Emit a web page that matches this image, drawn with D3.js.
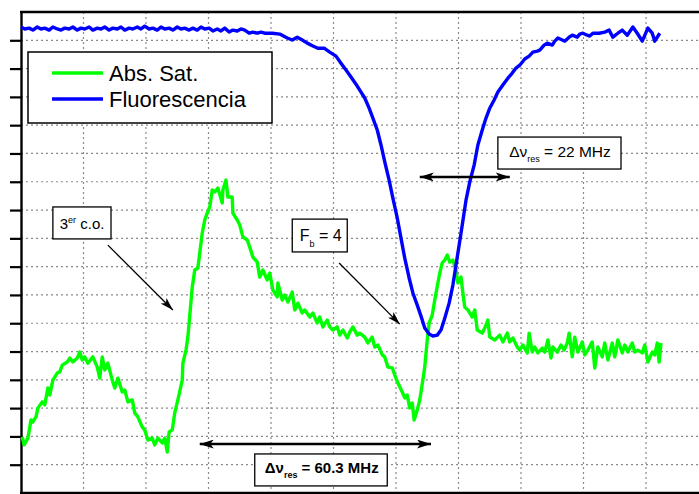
<!DOCTYPE html>
<html><head><meta charset="utf-8">
<script src="https://cdn.jsdelivr.net/npm/d3@7"></script>
<style>body{margin:0;background:#fff}svg{display:block}</style>
</head><body><svg id="c" width="699" height="494"></svg>
<script>
const seriesNames = ["Abs. Sat.", "Fluorescencia"];
const xGrid = [0,10,20,30,40,50,60,70,80,90,100,110];
const yGrid = [0,10,20,30,40,50,60,70,80,90,100,110,120,130,140,150,160,170];
const yTicks = [10,20,30,40,50,60,70,80,90,100,110,120,130,140,150,160];

const absSat = [
[0.2,19.8],[0.5,17.0],[1.1,19.4],[1.6,25.8],[1.9,25.1],[2.4,26.9],[2.7,30.0],[3.4,32.2],[3.8,31.1],[4.3,37.1],
[4.6,34.6],[5.1,39.9],[5.8,42.4],[6.2,42.8],[6.6,45.2],[7.4,46.3],[7.8,47.7],[8.3,46.3],[9.0,47.7],[9.4,49.8],
[9.8,47.0],[10.2,48.1],[10.7,45.9],[11.5,48.1],[12.2,44.5],[12.6,40.6],[13.0,48.1],[13.4,43.5],[13.9,45.9],[14.6,39.9],
[15.0,37.1],[15.5,40.6],[16.2,35.7],[16.6,36.4],[17.1,32.2],[17.8,32.9],[18.2,28.3],[18.7,26.9],[19.4,23.3],[19.8,22.3],
[20.3,18.7],[21.0,19.4],[21.4,17.0],[21.9,19.4],[22.6,17.7],[23.0,19.4],[23.4,14.5],[23.7,21.6],[24.2,22.3],[24.6,28.3],
[25.1,32.9],[25.8,39.9],[25.9,45.9],[26.4,50.5],[26.7,55.1],[27.4,72.8],[27.8,78.8],[28.3,79.5],[29.0,91.9],[29.4,96.5],
[29.8,98.9],[30.2,101.1],[30.6,107.1],[31.0,106.4],[31.5,107.8],[32.2,102.5],[32.3,107.1],[32.8,110.6],[33.1,104.6],[33.8,104.6],
[33.9,98.9],[34.6,96.5],[35.0,94.7],[35.5,90.5],[36.2,89.4],[36.6,86.9],[37.1,83.4],[37.8,81.6],[38.2,76.3],[38.7,78.8],
[39.4,75.3],[39.8,77.7],[40.3,71.7],[41.0,69.3],[41.1,74.2],[41.8,68.2],[42.2,70.0],[42.7,67.5],[43.4,71.0],[43.8,64.7],
[44.3,67.1],[45.0,63.6],[45.4,64.7],[46.2,62.2],[46.7,63.6],[47.4,60.1],[47.8,62.2],[48.3,58.7],[49.0,61.1],[49.4,58.7],
[49.9,57.6],[50.6,58.7],[51.0,55.8],[51.5,57.6],[52.2,54.8],[52.6,56.9],[53.1,58.7],[53.8,55.8],[54.2,56.5],[55.0,55.1],
[55.5,53.0],[56.2,55.1],[56.6,51.6],[57.1,52.3],[57.8,48.8],[58.2,48.1],[58.7,44.5],[59.4,44.2],[59.8,41.7],[60.3,38.9],
[61.0,35.7],[61.4,33.6],[61.8,34.6],[62.2,30.0],[62.6,31.8],[62.9,25.8],[63.4,29.3],[63.8,32.9],[64.3,39.9],[64.6,44.5],
[65.0,54.1],[65.3,60.1],[65.8,62.9],[66.2,68.2],[66.7,74.2],[67.0,77.7],[67.4,81.3],[67.8,82.3],[68.2,84.1],[68.6,81.6],
[69.1,82.3],[69.6,78.8],[69.9,74.2],[70.4,76.3],[70.7,70.7],[71.0,65.7],[71.5,64.7],[72.2,62.2],[72.6,64.7],[73.0,57.6],
[73.8,56.5],[74.2,58.3],[74.7,61.1],[75.0,55.1],[75.8,54.1],[76.6,55.8],[77.1,53.4],[77.8,56.5],[78.2,53.4],[78.7,54.8],
[79.4,51.6],[79.8,50.5],[80.3,52.3],[81.0,49.5],[81.3,56.5],[81.8,49.8],[82.2,51.6],[82.7,49.5],[83.4,51.2],[83.8,49.8],
[84.3,54.1],[84.8,47.7],[85.1,51.6],[85.8,49.8],[86.4,52.3],[86.9,50.5],[87.4,53.0],[87.7,56.5],[88.2,48.1],[88.6,55.1],
[89.1,49.8],[89.8,53.4],[90.2,48.8],[90.7,50.5],[91.4,53.4],[91.8,44.2],[92.3,51.6],[93.0,48.1],[93.4,53.0],[93.9,47.0],
[94.6,53.0],[95.0,48.1],[95.5,54.1],[96.2,49.5],[96.6,52.3],[97.1,49.8],[97.8,53.0],[98.2,49.8],[98.7,50.5],[99.4,49.5],
[99.8,52.3],[100.3,46.3],[101.0,49.8],[101.4,48.8],[101.8,53.0],[102.1,46.3],[102.4,53.0]
];

const fluorescencia = [
[0,164.7],[0.6,164.0],[1.3,164.3],[1.9,163.6],[2.6,164.7],[3.2,164.0],[3.8,164.3],[4.5,163.6],[5.1,164.7],[5.8,164.0],
[6.4,163.6],[7.0,164.3],[7.7,164.0],[8.3,164.7],[9.0,163.6],[9.6,164.3],[10.2,164.0],[10.9,164.7],[11.5,163.6],[12.2,164.3],
[12.8,164.0],[13.4,164.7],[14.1,163.6],[14.7,164.3],[15.4,164.0],[16.0,164.7],[16.6,163.6],[17.3,164.3],[17.9,164.0],[18.6,164.7],
[19.2,164.0],[19.8,165.0],[20.5,164.0],[21.1,164.3],[21.8,163.6],[22.4,164.7],[23.0,164.0],[23.7,164.3],[24.3,163.6],[25.0,164.7],
[25.6,164.0],[26.2,164.3],[26.9,163.6],[27.5,164.3],[28.2,163.6],[28.8,164.7],[29.4,164.0],[30.1,164.3],[30.7,163.3],[31.4,164.0],
[32.0,163.3],[32.6,164.3],[33.3,162.9],[33.9,163.6],[34.6,163.3],[35.2,164.0],[35.8,163.6],[36.5,162.5],[37.1,162.9],[37.8,162.5],
[38.4,162.9],[39.0,162.5],[40.2,162.5],[41.4,162.2],[42.6,160.8],[43.4,160.1],[44.2,161.1],[45.0,160.1],[45.8,159.0],[46.7,158.0],
[47.5,157.2],[48.5,157.2],[49.4,155.8],[50.4,154.4],[51.2,151.9],[52.0,149.5],[52.8,147.0],[53.6,144.5],[54.4,141.7],[55.0,139.6],
[55.7,136.0],[56.3,132.5],[57.0,128.3],[57.6,123.0],[58.2,117.0],[58.9,110.6],[59.5,104.2],[60.2,97.2],[60.8,90.1],[61.4,83.0],
[62.1,76.0],[62.7,70.7],[63.4,66.4],[64.0,62.5],[64.6,58.3],[65.3,56.2],[65.9,55.5],[66.6,55.8],[67.2,57.6],[67.8,61.8],
[68.5,67.1],[69.1,73.5],[69.6,80.6],[70.1,87.6],[70.6,94.7],[71.2,103.5],[71.8,109.9],[72.5,115.9],[73.1,123.0],[73.8,128.3],
[74.4,132.5],[75.0,136.0],[75.7,138.9],[76.3,141.7],[77.1,144.2],[77.9,146.6],[78.6,148.4],[79.2,150.2],[79.8,151.2],[80.6,153.4],
[81.3,154.4],[81.9,155.8],[82.6,156.2],[83.0,156.5],[83.7,158.3],[84.2,159.0],[85.0,158.3],[85.4,159.7],[85.9,160.8],[86.6,160.1],
[87.0,159.7],[87.7,161.1],[88.2,161.8],[89.0,161.1],[89.4,162.2],[89.9,162.5],[90.6,161.8],[91.0,161.5],[91.5,162.5],[92.5,162.5],
[93.4,162.9],[94.1,163.6],[94.7,161.1],[95.5,162.5],[96.2,163.6],[97.0,161.8],[97.9,164.7],[98.6,162.5],[99.4,159.7],[100.3,164.3],
[101.0,162.5],[101.4,159.7],[102.2,162.5]
];

const colors = ["#00ff00", "#0000ff"];
const font = "Arial, 'Liberation Sans', sans-serif";

const svg = d3.select("#c");
const x = d3.scaleLinear().domain([0,110]).range([21, 708.5]);
const y = d3.scaleLinear().domain([0,170]).range([493, 12]);

// grid
svg.append("g").selectAll("line").data(xGrid.slice(1)).join("line")
  .attr("x1", d=>x(d)).attr("x2", d=>x(d)).attr("y1", y(170)).attr("y2", y(0))
  .attr("stroke", "#8a8a8a").attr("stroke-width", 1.2).attr("stroke-dasharray", "2,3");
svg.append("g").selectAll("line").data(yGrid.slice(1,-1)).join("line")
  .attr("x1", x(0)).attr("x2", x(110)).attr("y1", d=>y(d)).attr("y2", d=>y(d))
  .attr("stroke", "#8a8a8a").attr("stroke-width", 1.2).attr("stroke-dasharray", "2,3");

// left axis with outward ticks
const yAxis = d3.axisLeft(y).tickValues(yTicks).tickSize(11).tickSizeOuter(0).tickFormat("");
const ga = svg.append("g").attr("transform", `translate(${x(0)},0)`).call(yAxis);
ga.selectAll("line").attr("stroke", "#000").attr("stroke-width", 2.2);
ga.select(".domain").attr("stroke", "#000").attr("stroke-width", 2.4);
// top and bottom frame
svg.append("line").attr("x1", x(0)-1).attr("x2", x(110)).attr("y1", y(170)).attr("y2", y(170))
  .attr("stroke", "#000").attr("stroke-width", 2.4);
svg.append("line").attr("x1", x(0)-1).attr("x2", x(110)).attr("y1", y(0)).attr("y2", y(0))
  .attr("stroke", "#000").attr("stroke-width", 2.4);

// series
const line = d3.line().x(d=>x(d[0])).y(d=>y(d[1]));
[absSat, fluorescencia].forEach((s,i) => {
  svg.append("path").datum(s).attr("d", line).attr("fill", "none")
    .attr("stroke", colors[i]).attr("stroke-width", 3.4).attr("stroke-linejoin", "round");
});

// markers
const defs = svg.append("defs");
function marker(id, len, wid) {
  defs.append("marker").attr("id", id).attr("markerUnits", "userSpaceOnUse")
    .attr("viewBox", `0 0 ${len} ${wid}`).attr("refX", len).attr("refY", wid/2)
    .attr("markerWidth", len).attr("markerHeight", wid).attr("orient", "auto-start-reverse")
    .append("path").attr("d", `M0,0 L${len},${wid/2} L0,${wid} L${len*0.25},${wid/2} Z`).attr("fill", "#000");
}
marker("ah", 14, 9);
marker("ahs", 13, 8);

function arrow(x1,y1,x2,y2,w,both,m) {
  const l = svg.append("line").attr("x1", x(x1)).attr("y1", y(y1)).attr("x2", x(x2)).attr("y2", y(y2))
    .attr("stroke", "#000").attr("stroke-width", w).attr("marker-end", `url(#${m})`);
  if (both) l.attr("marker-start", `url(#${m})`);
}
arrow(13.9, 87.6, 24.3, 64.7, 1.3, false, "ahs");
arrow(50.9, 81.3, 60.6, 59.7, 1.3, false, "ahs");
arrow(63.8, 111.7, 78.2, 111.7, 2.6, true, "ah");
arrow(28.6, 17.3, 65.6, 17.3, 2.6, true, "ah");

function box(x0, y0, x1, y1) {
  svg.append("rect").attr("x", x(x0)).attr("y", y(y0)).attr("width", x(x1)-x(x0)).attr("height", y(y1)-y(y0))
    .attr("fill", "#fff").attr("stroke", "#000").attr("stroke-width", 1.3);
}

// 3er c.o.
box(5.1, 101.1, 14.4, 89.8);
let t = svg.append("text").attr("x", x(6.2)).attr("y", y(93.3)).attr("font-family", font).attr("font-size", 15).attr("fill", "#000");
t.append("tspan").text("3");
t.append("tspan").attr("dy", -6).attr("font-size", 9).text("er");
t.append("tspan").attr("dy", 6).text(" c.o.");

// Fb = 4
box(43.4, 96.8, 52.2, 85.2);
t = svg.append("text").attr("x", x(44.6)).attr("y", y(89.0)).attr("font-family", font).attr("font-size", 16).attr("fill", "#000");
t.append("tspan").text("F");
t.append("tspan").attr("dy", 6).attr("font-size", 9).text("b");
t.append("tspan").attr("dy", -6).text(" = 4");

// 22 MHz
box(76.3, 125.8, 96.0, 114.5);
t = svg.append("text").attr("x", x(78.1)).attr("y", y(118.6)).attr("font-family", font).attr("font-size", 15.5).attr("fill", "#000");
t.append("tspan").text("Δν");
t.append("tspan").attr("dy", 5).attr("font-size", 9).text("res");
t.append("tspan").attr("dy", -5).text(" = 22 MHz");

// 60.3 MHz
box(37.4, 13.8, 58.6, 2.5);
t = svg.append("text").attr("x", x(39.0)).attr("y", y(7.1)).attr("font-family", font).attr("font-size", 15).attr("font-weight", "bold").attr("fill", "#000");
t.append("tspan").text("Δν");
t.append("tspan").attr("dy", 5).attr("font-size", 9).text("res");
t.append("tspan").attr("dy", -5).text(" = 60.3 MHz");

// legend
const lg = svg.append("g");
lg.append("rect").attr("x", 28).attr("y", 52).attr("width", 244).attr("height", 71)
  .attr("fill", "#fff").attr("stroke", "#000").attr("stroke-width", 1.5);
seriesNames.forEach((n,i) => {
  const yy = 73 + i*26;
  lg.append("line").attr("x1", 52).attr("x2", 103).attr("y1", yy).attr("y2", yy)
    .attr("stroke", colors[i]).attr("stroke-width", 3.4);
  lg.append("text").attr("x", 109).attr("y", yy+8).attr("font-family", font).attr("font-size", 22)
    .attr("fill", "#000").text(n);
});
</script>
</body></html>
